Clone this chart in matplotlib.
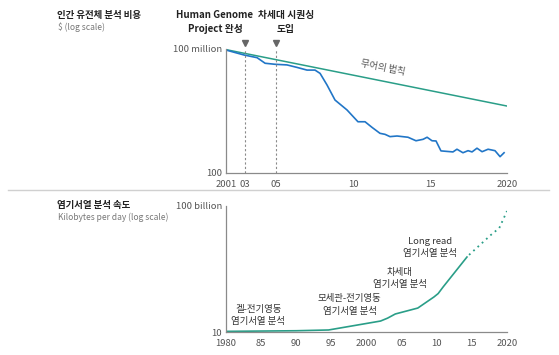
import numpy as np
import matplotlib
matplotlib.use("Agg")
import matplotlib.pyplot as plt
from matplotlib.lines import Line2D

plt.rcParams['font.family'] = ['Noto Sans CJK KR', 'DejaVu Sans']

# --- top panel: cost per human genome (USD, log) ---
cost_years = [2001.75, 2002.92, 2003.77, 2004.29, 2004.94, 2005.71, 2006.36, 2007.01,
              2007.53, 2007.86, 2008.31, 2008.83, 2009.61, 2010.32, 2010.78, 2011.23,
              2011.75, 2012.08, 2012.40, 2012.86, 2013.57, 2014.09, 2014.55, 2014.81,
              2015.13, 2015.39, 2015.71, 2016.49, 2016.75, 2017.14, 2017.47, 2017.73,
              2018.05, 2018.38, 2018.77, 2019.22, 2019.55, 2019.81]
cost_log = [7.95, 7.71, 7.58, 7.31, 7.26, 7.23, 7.11, 6.98,
            6.98, 6.82, 6.26, 5.53, 5.05, 4.48, 4.48, 4.21,
            3.92, 3.87, 3.76, 3.79, 3.73, 3.56, 3.63, 3.73,
            3.56, 3.55, 3.07, 3.02, 3.15, 2.98, 3.08, 3.02,
            3.20, 3.03, 3.15, 3.08, 2.79, 2.98]
moore_years = [2001.75, 2020]
moore_log = [7.97, 5.24]
event_years = [2003, 2005]
event_labels = ["Human Genome\nProject 완성", "차세대 시퀀싱\n도입"]
top_xticks = [2001.75, 2003, 2005, 2010, 2015, 2020]
top_xlabels = ["2001", "03", "05", "10", "15", "2020"]

# --- bottom panel: sequencing speed (kilobytes per day, log) ---
speed_years = [1980, 1990, 1994.6, 2002, 2003, 2004.1, 2007.3, 2009.6, 2010.2, 2010.9, 2014.3]
speed_log = [1.05, 1.10, 1.16, 1.87, 2.1, 2.43, 2.9, 3.78, 4.05, 4.57, 6.95]
proj_years = [2014.6, 2017.7, 2018.9, 2020]
proj_log = [7.12, 8.70, 9.25, 10.6]
bottom_xticks = [1980, 1985, 1990, 1995, 2000, 2005, 2010, 2015, 2020]
bottom_xlabels = ["1980", "85", "90", "95", "2000", "05", "10", "15", "2020"]
era_labels = ["겔-전기영동\n염기서열 분석", "모세관-전기영동\n염기서열 분석",
              "차세대\n염기서열 분석", "Long read\n염기서열 분석"]
era_x = [1984.6, 1997.6, 2004.7, 2009.0]
era_y_log = [2.31, 3.14, 5.26, 7.7]

BLUE = '#2176c7'
TEAL = '#2a9e88'
GRAY = '#8a8a8a'
TXT = '#333333'
TICK = '#555555'

W, H = 559, 355
fig = plt.figure(figsize=(W / 100, H / 100), dpi=100)


def box(l, t, r, b):
    return [l / W, 1 - b / H, (r - l) / W, (b - t) / H]


def style(ax):
    for s in ['top', 'right']:
        ax.spines[s].set_visible(False)
    for s in ['left', 'bottom']:
        ax.spines[s].set_color(GRAY)
        ax.spines[s].set_linewidth(0.9)
    ax.tick_params(length=0, labelsize=6.8, colors=TICK)
    ax.tick_params(axis='y', pad=3)
    ax.tick_params(axis='x', pad=5)
    ax.yaxis.set_minor_locator(matplotlib.ticker.NullLocator())


# top panel
ax1 = fig.add_axes(box(226, 49, 507, 173))
ax1.set_yscale('log')
ax1.plot(moore_years, 10 ** np.array(moore_log), color=TEAL, lw=1.1)
ax1.plot(cost_years, 10 ** np.array(cost_log), color=BLUE, lw=1.2)
ax1.set_xlim(2001.75, 2020)
ax1.set_ylim(1e2, 1e8)
ax1.set_xticks(top_xticks)
ax1.set_xticklabels(top_xlabels)
ax1.set_yticks([1e2, 1e8])
ax1.set_yticklabels(["100", "100 million"])
style(ax1)
for yr in event_years:
    ax1.axvline(yr, color=GRAY, lw=0.8, ls=(0, (2, 2)))
    ax1.plot([yr], [1.05], marker='v', ms=5, color='#666666',
             transform=ax1.get_xaxis_transform(), clip_on=False)
ax1.text(2011.95, 10 ** 7.08, "무어의 법칙", rotation=-11.3, fontsize=6.8,
         color='#555555', ha='center', va='center')

fig.text(215 / W, 1 - 22 / H, event_labels[0], ha='center', va='center',
         fontsize=7, fontweight='bold', color='#222222', linespacing=1.45)
fig.text(286 / W, 1 - 22 / H, event_labels[1], ha='center', va='center',
         fontsize=7, fontweight='bold', color='#222222', linespacing=1.45)

fig.text(57 / W, 1 - 15 / H, "인간 유전체 분석 비용", ha='left', va='center',
         fontsize=6.8, fontweight='bold', color='#222222')
fig.text(58 / W, 1 - 27 / H, "$ (log scale)", ha='left', va='center',
         fontsize=6.1, color='#777777')

# separator
fig.add_artist(Line2D([8 / W, 549 / W], [1 - 190 / H, 1 - 190 / H],
                      color='#d0d0d0', lw=1))

# bottom panel
ax2 = fig.add_axes(box(226, 206, 507, 332))
ax2.set_yscale('log')
ax2.plot(speed_years, 10 ** np.array(speed_log), color=TEAL, lw=1.2)
ax2.plot(proj_years, 10 ** np.array(proj_log), color=TEAL, lw=1.3, ls=(0, (1, 2.2)))
ax2.set_xlim(1980, 2020)
ax2.set_ylim(10, 1e11)
ax2.set_xticks(bottom_xticks)
ax2.set_xticklabels(bottom_xlabels)
ax2.set_yticks([10, 1e11])
ax2.set_yticklabels(["10", "100 billion"])
style(ax2)
for lbl, x, yl in zip(era_labels, era_x, era_y_log):
    ax2.text(x, 10 ** yl, lbl, ha='center', va='center', fontsize=6.8,
             color=TXT, linespacing=1.45, multialignment='center')

fig.text(57 / W, 1 - 205 / H, "염기서열 분석 속도", ha='left', va='center',
         fontsize=6.8, fontweight='bold', color='#222222')
fig.text(58 / W, 1 - 217 / H, "Kilobytes per day (log scale)", ha='left', va='center',
         fontsize=6.1, color='#777777')

fig.savefig("out.png", dpi=100)
